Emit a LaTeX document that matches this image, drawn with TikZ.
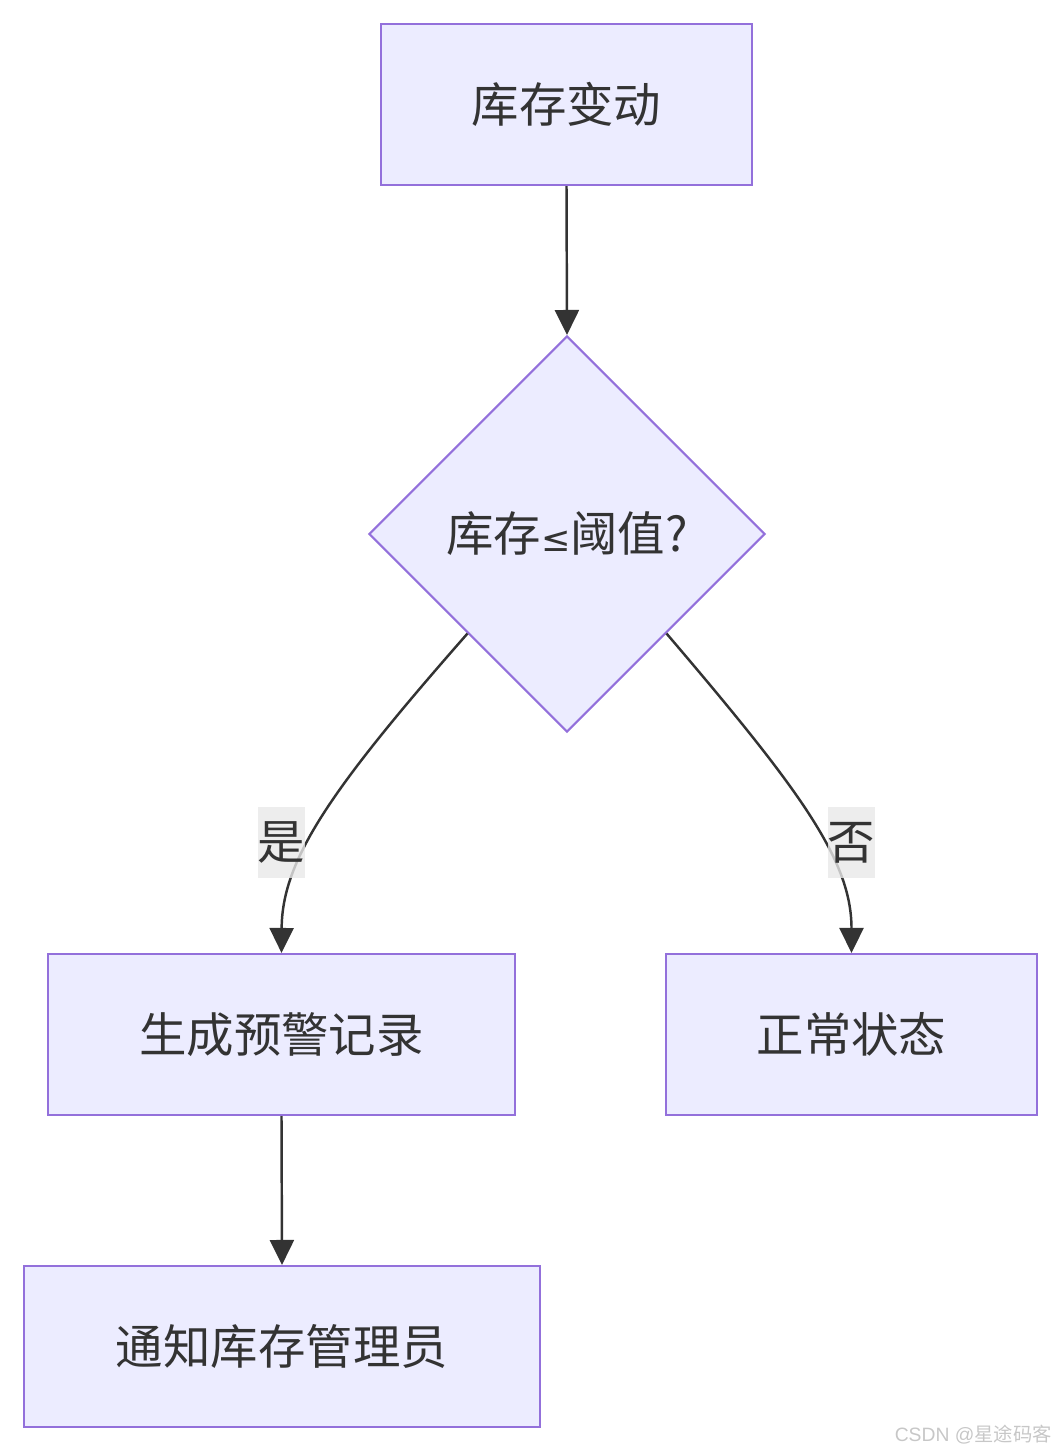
\documentclass[tikz,border=0pt]{standalone}
\usepackage{fontspec}
\setmainfont{Noto Sans CJK SC}
\newfontfamily\symfont{DejaVu Sans}
\newfontfamily\markfont{Liberation Sans}
\usepackage{tikz}
\usetikzlibrary{shapes.geometric,arrows.meta}

\definecolor{boxfill}{HTML}{ECECFF}
\definecolor{boxline}{HTML}{9370DB}
\definecolor{edgecol}{HTML}{333333}
\definecolor{lblbg}{HTML}{E8E8E8}

\tikzset{
  proc/.style={draw=boxline, fill=boxfill, line width=1.2pt, text=edgecol,
    minimum height=3.22cm, inner sep=0pt, font=\fontsize{27}{32}\selectfont},
  decide/.style={diamond, draw=boxline, fill=boxfill, line width=1.2pt, text=edgecol,
    minimum width=7.92cm, minimum height=7.92cm, inner sep=0pt, font=\fontsize{27}{32}\selectfont},
  lbl/.style={fill=lblbg, fill opacity=0.8, text opacity=1, text=edgecol,
    minimum width=0.94cm, minimum height=1.42cm, inner sep=0pt, font=\fontsize{27}{32}\selectfont},
  flow/.style={draw=edgecol, line width=1.4pt, -{Triangle[length=0.5cm, width=0.48cm]}}
}

\begin{document}
\begin{tikzpicture}[x=0.02cm, y=-0.02cm]

	\useasboundingbox (0,0) rectangle (1062,1452);

	\node[proc, minimum width=7.42cm](change) at (566.5,104.5){库存变动};
	\node[decide](check) at (567,534){库存{\symfont\fontsize{20}{24}\selectfont ≤}阈值?};
	\node[proc, minimum width=9.34cm](record) at (281.5,1034.5){生成预警记录};
	\node[proc, minimum width=7.42cm](normal) at (851.5,1034.5){正常状态};
	\node[proc, minimum width=10.32cm](notify) at (282,1346.5){通知库存管理员};

	\draw[flow] (change.south) -- (check.north);
	\draw[flow] (check.south west) .. controls (330,790) and (282,860) .. (record.north);
	\draw[flow] (check.south east) .. controls (800,790) and (851.5,860) .. (normal.north);
	\draw[flow] (record.south) -- (notify.north);

	\node[lbl](yes) at (281.5,842.5){是};
	\node[lbl](no) at (851.5,842.5){否};

	% watermark
	\node[anchor=east, text=black!22, font=\fontsize{11}{12}\selectfont](mark) at (1058,1435){{\markfont CSDN @}星途码客};

\end{tikzpicture}
\end{document}
